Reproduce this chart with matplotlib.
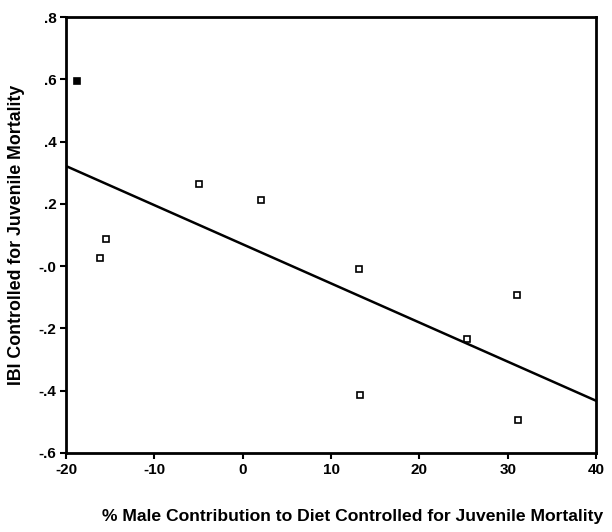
import numpy as np
import matplotlib
matplotlib.use("Agg")
import matplotlib.pyplot as plt

# values
male_contrib = [-18.8, -16.2, -15.5, -5.0, 2.1, 13.2, 13.3, 25.4, 31.0, 31.2]
ibi_resid = [0.594, 0.026, 0.087, 0.264, 0.212, -0.009, -0.414, -0.234, -0.093, -0.494]
filled = [True, False, False, False, False, False, False, False, False, False]

xticks = [-20, -10, 0, 10, 20, 30, 40]
yticks = [0.8, 0.6, 0.4, 0.2, 0.0, -0.2, -0.4, -0.6]
ytick_labels = [".8", ".6", ".4", ".2", "-.0", "-.2", "-.4", "-.6"]

plt.rcParams['font.family'] = ['Liberation Sans', 'DejaVu Sans']
plt.rcParams['font.weight'] = 'bold'
plt.rcParams['axes.unicode_minus'] = False

fig = plt.figure(figsize=(6.12, 5.32), dpi=100)
ax = fig.add_axes([0.108, 0.1485, 0.866, 0.8195])

x = np.array(male_contrib)
y = np.array(ibi_resid)
for xi, yi, f in zip(x, y, filled):
    ax.plot(xi, yi, marker='s', ms=4.5, mew=1.2, mec='black',
            mfc='black' if f else 'white', linestyle='none')

# least squares fit line
slope, intercept = np.polyfit(x, y, 1)
xl = np.array([-20, 40])
ax.plot(xl, slope * xl + intercept, color='black', lw=1.8)

ax.set_xlim(-20, 40)
ax.set_ylim(-0.6, 0.8)
ax.set_xticks(xticks)
ax.set_yticks(yticks)
ax.set_yticklabels(ytick_labels)
for s in ax.spines.values():
    s.set_linewidth(2)
ax.tick_params(direction='out', length=4, width=1.5, labelsize=11, pad=3)

ax.set_ylabel("IBI Controlled for Juvenile Mortality", fontsize=12.8,
              fontweight='bold', labelpad=10)
fig.text(353 / 612, 1 - 517 / 532,
         "% Male Contribution to Diet Controlled for Juvenile Mortality",
         ha='center', va='center', fontsize=12.6, fontweight='bold')

fig.savefig("out.png", dpi=100)
